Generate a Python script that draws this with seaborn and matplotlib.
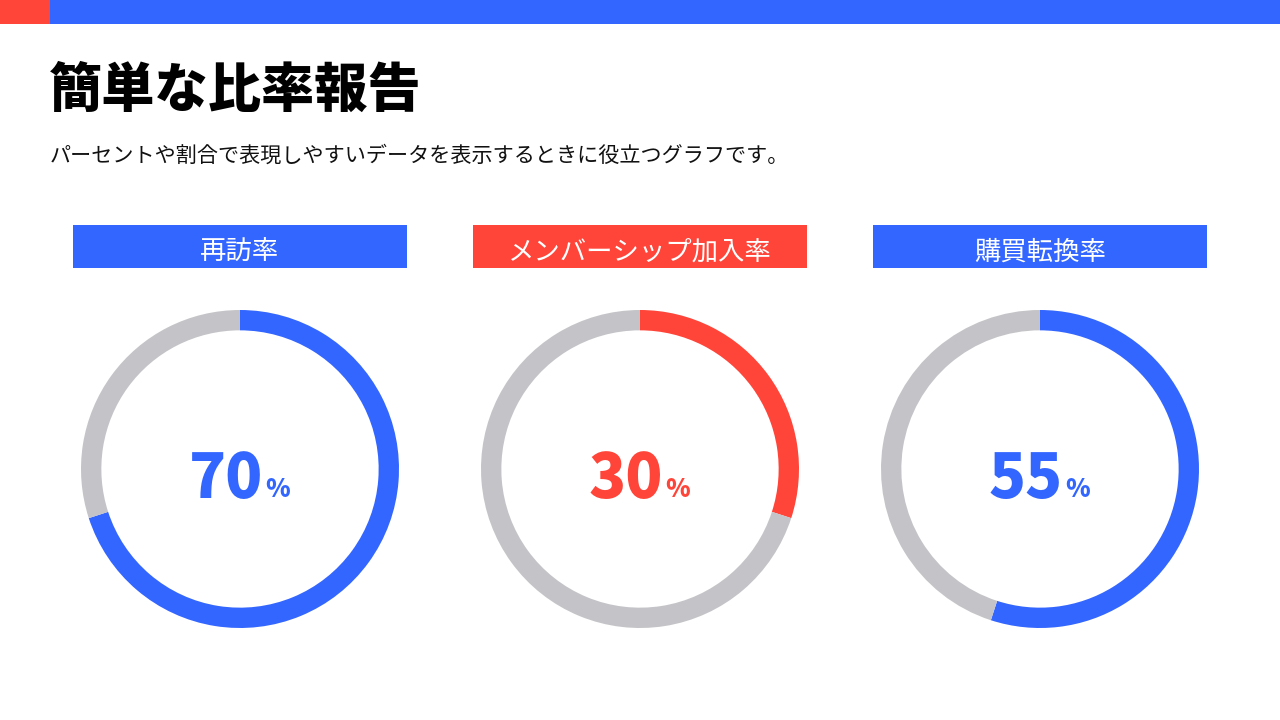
import matplotlib
matplotlib.use("Agg")
import matplotlib.pyplot as plt
from matplotlib.patches import Rectangle
import seaborn as sns

# data
LABELS = ["再訪率", "メンバーシップ加入率", "購買転換率"]
VALUES = [70, 30, 55]
COLORS = ["#3366FF", "#FF4539", "#3366FF"]
GRAY = "#C4C3C7"
TITLE = "簡単な比率報告"
SUBTITLE = "パーセントや割合で表現しやすいデータを表示するときに役立つグラフです。"

sns.set_theme(style="white")
plt.rcParams["font.family"] = ["Noto Sans CJK JP", "DejaVu Sans"]

W, H = 1280, 720
fig = plt.figure(figsize=(12.8, 7.2), dpi=100, facecolor="white")

def fx(px):
    return px / W

def fy(py):
    return 1 - py / H

# top band
fig.add_artist(Rectangle((0, fy(24)), fx(50), 24 / H, transform=fig.transFigure, color="#FF4539", lw=0))
fig.add_artist(Rectangle((fx(50), fy(24)), 1 - fx(50), 24 / H, transform=fig.transFigure, color="#3366FF", lw=0))

fig.text(fx(49), fy(91), TITLE, fontsize=38.3, fontweight="black", color="black", va="center", ha="left")
fig.text(fx(50), fy(156), SUBTITLE, fontsize=15.2, color="#111111", va="center", ha="left")

centers = [240, 640, 1040]
R = 159
for cx, label, val, col in zip(centers, LABELS, VALUES, COLORS):
    # header box
    fig.add_artist(Rectangle((fx(cx - 167), fy(268)), fx(334), 43 / H,
                             transform=fig.transFigure, color=col, lw=0))
    fig.text(fx(cx), fy(252), label, fontsize=19, color="white", ha="center", va="center")

    ax = fig.add_axes([fx(cx - R), fy(469 + R), fx(2 * R), 2 * R / H])
    ax.pie([val, 100 - val], colors=[col, GRAY], startangle=90, counterclock=False,
           wedgeprops=dict(width=0.128, linewidth=0))
    ax.set_xlim(-1, 1)
    ax.set_ylim(-1, 1)
    ax.set_aspect("equal")
    ax.axis("off")
    ax.text(0.145, -0.185, str(val), fontsize=44, fontweight="heavy", color=col,
            ha="right", va="baseline")
    ax.text(0.16, -0.175, "%", fontsize=18, fontweight="heavy", color=col,
            ha="left", va="baseline")

fig.savefig("out.png", dpi=100, facecolor="white")
